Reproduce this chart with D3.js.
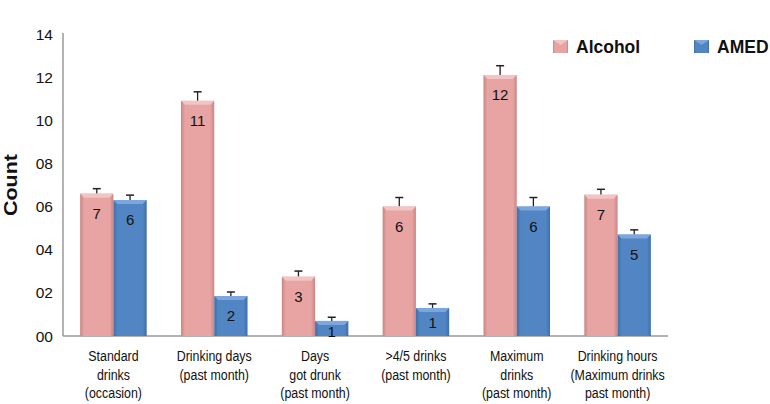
<!DOCTYPE html>
<html><head><meta charset="utf-8">
<script src="https://cdn.jsdelivr.net/npm/d3@7"></script>
<style>body{margin:0;background:#fff}svg{display:block;font-family:"Liberation Sans",Arial,sans-serif}</style>
</head><body><svg id="c" width="770" height="404"></svg>
<script>
const categories = [
  ["Standard","drinks","(occasion)"],
  ["Drinking days","(past month)"],
  ["Days","got drunk","(past month)"],
  [">4/5 drinks","(past month)"],
  ["Maximum","drinks","(past month)"],
  ["Drinking hours","(Maximum drinks","past month)"]
];
const seriesNames = ["Alcohol","AMED"];
const alcohol = [6.6, 10.9, 2.75, 6.0, 12.1, 6.55];
const amed = [6.3, 1.85, 0.7, 1.3, 6.0, 4.7];
const alcoholErr = [0.23, 0.42, 0.26, 0.42, 0.43, 0.25];
const amedErr = [0.23, 0.19, 0.17, 0.19, 0.42, 0.22];
const alcoholLabels = ["7","11","3","6","12","7"];
const amedLabels = ["6","2","1","1","6","5"];
const yTicks = [0,2,4,6,8,10,12,14];
const yTickLabels = ["00","02","04","06","08","10","12","14"];

const svg = d3.select("#c");
const L = 63, R = 668, T = 34, B = 336;
const x = d3.scaleBand().domain(d3.range(categories.length)).range([L, R]).paddingInner(0.34).paddingOuter(0.17);
const xs = d3.scaleBand().domain([0,1]).range([0, x.bandwidth()]);
const y = d3.scaleLinear().domain([0,14]).range([B, T]);

const defs = svg.append("defs");
function grad(id, edge, mid) {
  const g = defs.append("linearGradient").attr("id", id).attr("x1","0").attr("x2","1").attr("y1","0").attr("y2","0");
  g.append("stop").attr("offset","0").attr("stop-color",edge);
  g.append("stop").attr("offset","0.12").attr("stop-color",mid);
  g.append("stop").attr("offset","0.88").attr("stop-color",mid);
  g.append("stop").attr("offset","1").attr("stop-color",edge);
}
grad("gA", "#c98585", "#e8a3a3");
grad("gB", "#3f6fa8", "#5185c4");
const fills = ["url(#gA)", "url(#gB)"];
const tops = ["#f2c4c4", "#7ca6dc"];

// axes
svg.append("line").attr("x1", L).attr("x2", L).attr("y1", T - 1).attr("y2", B).attr("stroke", "#9a9a9a").attr("stroke-width", 1.5);
svg.append("line").attr("x1", L).attr("x2", R).attr("y1", B).attr("y2", B).attr("stroke", "#9a9a9a").attr("stroke-width", 1.5);

svg.append("g").selectAll("text").data(yTicks).join("text")
  .attr("x", 53).attr("y", d => y(d) + 5.5).attr("text-anchor", "end")
  .attr("font-size", 15.5).attr("fill", "#111").text((d, i) => yTickLabels[i]);

svg.append("text").attr("transform", `translate(17,${(T + B) / 2}) rotate(-90)`)
  .attr("text-anchor", "middle").attr("font-size", 18).attr("font-weight", "bold").attr("fill", "#111")
  .attr("textLength", 62).attr("lengthAdjust", "spacingAndGlyphs").text("Count");

const data = [alcohol, amed], errs = [alcoholErr, amedErr], labs = [alcoholLabels, amedLabels];
data.forEach((vals, s) => {
  const g = svg.append("g");
  vals.forEach((v, i) => {
    const bx = x(i) + xs(s), bw = xs.bandwidth(), cx = bx + bw / 2;
    const ey = y(v + errs[s][i]);
    g.append("line").attr("x1", cx).attr("x2", cx).attr("y1", ey).attr("y2", y(v)).attr("stroke", "#222").attr("stroke-width", 1.3);
    g.append("line").attr("x1", cx - 4).attr("x2", cx + 4).attr("y1", ey).attr("y2", ey).attr("stroke", "#222").attr("stroke-width", 1.5);
    g.append("rect").attr("x", bx).attr("y", y(v)).attr("width", bw).attr("height", B - y(v)).attr("fill", fills[s]);
    g.append("path").attr("d", `M${bx},${y(v)}h${bw}l-4,4h${-(bw - 8)}z`).attr("fill", tops[s]);
    const ty = Math.min(y(v) + 25, Math.max(B - 8, y(v) + 16));
    g.append("text").attr("x", cx).attr("y", ty).attr("text-anchor", "middle")
      .attr("font-size", 15).attr("fill", "#111").text(labs[s][i]);
  });
});

// x labels (condensed)
categories.forEach((lines, i) => {
  const g = svg.append("g").attr("transform", `translate(${x(i) + x.bandwidth() / 2},0) scale(0.8,1)`);
  const t = g.append("text").attr("text-anchor", "middle").attr("font-size", 15.5).attr("fill", "#111");
  lines.forEach((ln, j) => t.append("tspan").attr("x", 0).attr("y", 361 + j * 18.6).text(ln));
});

// legend
const legX = [553, 694];
seriesNames.forEach((n, s) => {
  svg.append("rect").attr("x", legX[s]).attr("y", 40).attr("width", 15).attr("height", 13).attr("fill", fills[s]);
  svg.append("path").attr("d", `M${legX[s]},40h15l-7.5,5z`).attr("fill", tops[s]);
  svg.append("text").attr("x", legX[s] + 23).attr("y", 53).attr("font-size", 17.5).attr("font-weight", "bold").attr("fill", "#111").text(n);
});
</script></body></html>
